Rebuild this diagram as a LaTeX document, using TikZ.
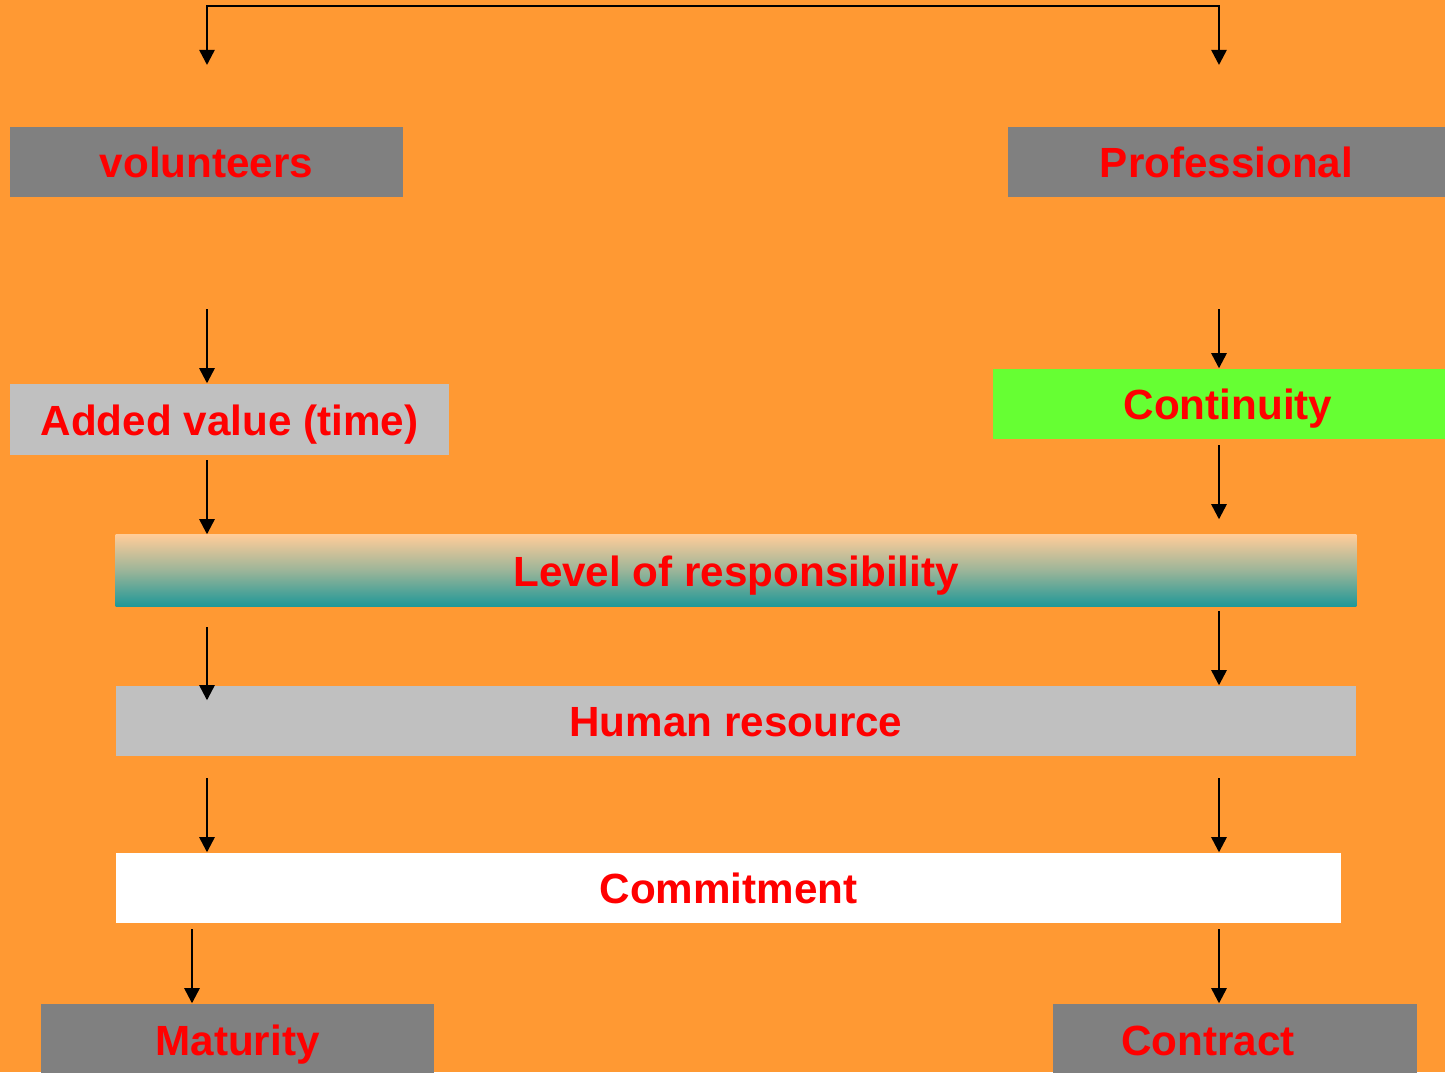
\documentclass[tikz,border=0pt]{standalone}
\usepackage{fontspec}
\setmainfont{Liberation Sans}
\usetikzlibrary{arrows.meta,positioning,calc}
\definecolor{bgorange}{RGB}{255,153,51}
\definecolor{boxgray}{RGB}{128,128,128}
\definecolor{boxsilver}{RGB}{192,192,192}
\definecolor{boxgreen}{RGB}{102,255,51}
\definecolor{peach}{RGB}{255,204,153}
\definecolor{teal2}{RGB}{32,152,152}
\tikzset{box/.style={inner sep=0pt,minimum height=0.70cm,text height=8.9pt,text depth=0pt,
    text=red,font=\fontsize{12}{14}\selectfont\bfseries},
  arr/.style={-{Triangle[length=4.3pt,width=4.3pt]},line width=0.7pt}}

\begin{document}
\begin{tikzpicture}[x=0.01cm,y=-0.01cm]
\useasboundingbox (0,0) rectangle (1445,1072);
\fill[bgorange] (0,0) rectangle (1445,1072);
\node[box,fill=boxgray,minimum width=3.93cm] (vol) at (206.5,162) {volunteers};
\node[box,fill=boxgray,minimum width=4.37cm] (pro) at (1226.5,162) {Professional};
\node[box,fill=boxsilver,minimum width=4.39cm,minimum height=0.71cm] (add) at (229.5,419.5) {Added value (time)};
\node[box,fill=boxgreen,minimum width=4.52cm,
  label={[box,xshift=0.09cm]center:Continuity}] (cont) at (1219,404) {};
\node[box,top color=peach,bottom color=teal2,middle color=peach!55!teal2,minimum width=12.40cm,minimum height=0.71cm]
  (lev) at (736,570.5) {Level of responsibility};
\node[box,fill=boxsilver,minimum width=12.40cm] (hum) at (736,721) {Human resource};
\node[box,fill=white,minimum width=12.25cm] (com) at (728.5,888) {Commitment};
\node[box,fill=boxgray,minimum width=3.93cm,minimum height=0.72cm] (mat) at (237.5,1040) {Maturity};
\node[box,fill=boxgray,minimum width=3.64cm,minimum height=0.72cm,
  label={[box,xshift=-0.27cm]center:Contract}] (con) at (1235,1040) {};
\coordinate (vin) at (207,65);
\coordinate (pin) at (1219,65);
\coordinate (top) at (1219,6);
\draw[{Triangle[length=4.3pt,width=4.3pt]}-{Triangle[length=4.3pt,width=4.3pt]},line width=0.7pt]
  (vin) |- (top) -- (pin);
\coordinate (l1) at (207,309);
\coordinate (l2) at (207,460);
\coordinate (l3) at (207,627);
\coordinate (l4) at (207,778);
\coordinate (l5) at (192,929);
\coordinate (r1) at (1219,309);
\coordinate (r2) at (1219,445);
\coordinate (r3) at (1219,611);
\coordinate (r4) at (1219,778);
\coordinate (r5) at (1219,929);
\draw[arr] (l1) -- (l1 |- add.north);
\draw[arr] (l2) -- (l2 |- lev.north);
\draw[arr] (l3) -- ($(l3 |- hum.north)+(0,15)$);
\draw[arr] (l4) -- (l4 |- com.north);
\draw[arr] (l5) -- (l5 |- mat.north);
\draw[arr] (r1) -- (r1 |- cont.north);
\draw[arr] (r2) -- ($(r2 |- lev.north)+(0,-15)$);
\draw[arr] (r3) -- (r3 |- hum.north);
\draw[arr] (r4) -- (r4 |- com.north);
\draw[arr] (r5) -- (r5 |- con.north);
\end{tikzpicture}
\end{document}
